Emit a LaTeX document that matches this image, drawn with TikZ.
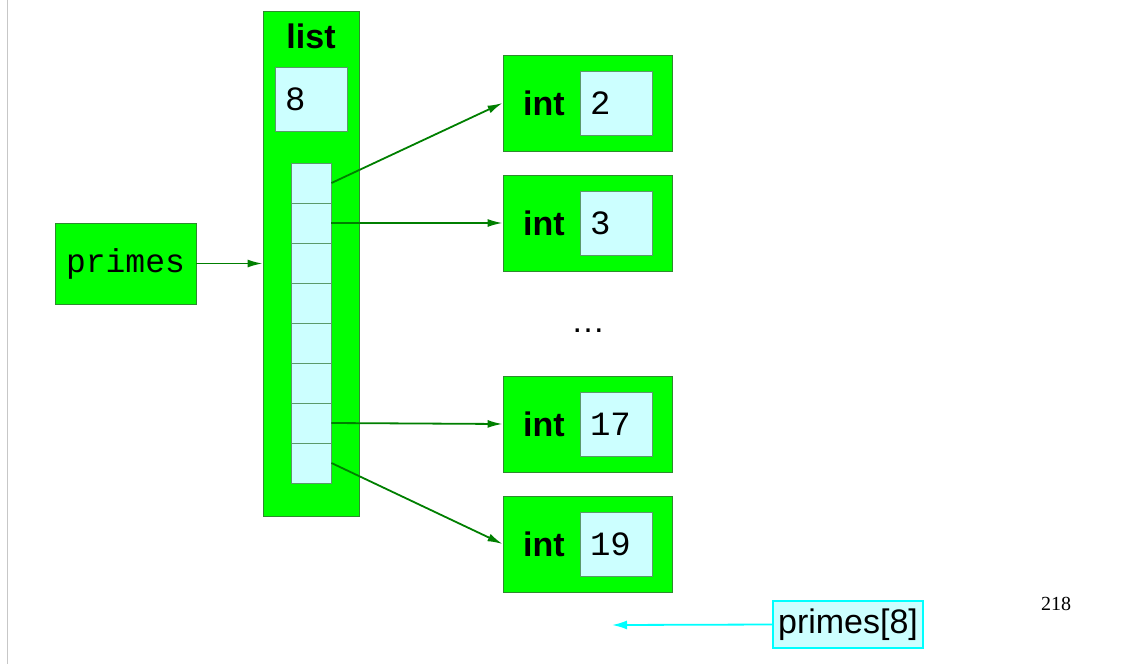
\documentclass[tikz,border=0pt]{standalone}
\usepackage{fontspec}
\setmainfont{Liberation Serif}
\setsansfont{Liberation Sans}
\setmonofont{Liberation Mono}
\usetikzlibrary{arrows.meta}

\definecolor{objgreen}{HTML}{00FF00}
\definecolor{objedge}{HTML}{2E8B2E}
\definecolor{valfill}{HTML}{CCFFFF}
\definecolor{valedge}{HTML}{5A9A6A}
\definecolor{ptrgreen}{HTML}{007F00}
\definecolor{idxcyan}{HTML}{00FFFF}

\begin{document}
\begin{tikzpicture}[
            x=1pt, y=-1pt,
            >=Latex,
            obj/.style={draw=objedge, fill=objgreen, line width=0.9pt, inner sep=0pt},
            val/.style={draw=valedge, fill=valfill, line width=0.9pt, inner sep=0pt,
                minimum width=72pt, minimum height=64pt, text width=52pt, align=left,
                font=\ttfamily\fontsize{34}{40}\selectfont},
            cell/.style={draw=valedge, fill=valfill, line width=0.9pt, inner sep=0pt,
                minimum width=40pt, minimum height=40pt},
            type label/.style={font=\sffamily\bfseries\fontsize{34}{40}\selectfont, inner sep=0pt},
            ptr/.style={->, ptrgreen, line width=1.8pt, arrows={-Latex[length=15pt, width=8pt]}},
            idx/.style={->, idxcyan, line width=1.8pt, arrows={-Latex[length=15pt, width=9pt]}},
        ]
        \useasboundingbox (0,0) rectangle (1123,664);
        \draw[black!22, line width=1pt] (7,0) -- (7,664);

        % the variable
        \node[obj, minimum width=141pt, minimum height=81pt,
            font=\ttfamily\fontsize{33}{40}\selectfont] (primes) at (125.5,263.5) {primes};

        % the list object
        \node[obj, minimum width=96pt, minimum height=505pt] (list) at (311,263.5) {};
        \node[type label] (listname) at (311,36) {list};
        \node[val] (listlen) at (311,99) {8};

        \node[cell] (c1) at (311,183) {};
        \node[cell] (c2) at (311,223) {};
        \node[cell] (c3) at (311,263) {};
        \node[cell] (c4) at (311,303) {};
        \node[cell] (c5) at (311,343) {};
        \node[cell] (c6) at (311,383) {};
        \node[cell] (c7) at (311,423) {};
        \node[cell] (c8) at (311,463) {};

        % the int objects
        \node[obj, minimum width=169pt, minimum height=96pt] (int2) at (587.5,103) {};
        \node[type label] (int2name) at (544,103) {int};
        \node[val] (int2val) at (616,103) {2};

        \node[obj, minimum width=169pt, minimum height=96pt] (int3) at (587.5,223) {};
        \node[type label] (int3name) at (544,223) {int};
        \node[val] (int3val) at (616,223) {3};

        \node[font=\sffamily\fontsize{34}{40}\selectfont] (dots) at (588,331) {\ldots};

        \node[obj, minimum width=169pt, minimum height=96pt] (int17) at (587.5,424) {};
        \node[type label] (int17name) at (544,424) {int};
        \node[val] (int17val) at (616,424) {17};

        \node[obj, minimum width=169pt, minimum height=96pt] (int19) at (587.5,544) {};
        \node[type label] (int19name) at (544,544) {int};
        \node[val] (int19val) at (616,544) {19};

        \draw[ptr] (primes.east) -- (list.west);
        \draw[ptr] (c1.east) -- (int2.west);
        \draw[ptr] (c2.east) -- (int3.west);
        \draw[ptr] (c7.east) -- (int17.west);
        \draw[ptr] (c8.east) -- (int19.west);

        % the index expression
        \node[draw=idxcyan, fill=valfill, line width=1.6pt, inner sep=0pt,
            minimum width=150pt, minimum height=47pt,
            font=\sffamily\fontsize{34}{40}\selectfont] (index) at (848,624.5) {primes[8]};
        \coordinate (indexend) at (612,625);
        \draw[idx] (index.west) -- (indexend);

        \node[font=\fontsize{20}{24}\selectfont, inner sep=0pt] (page) at (1056,604) {218};
        \end{tikzpicture}
\end{document}
